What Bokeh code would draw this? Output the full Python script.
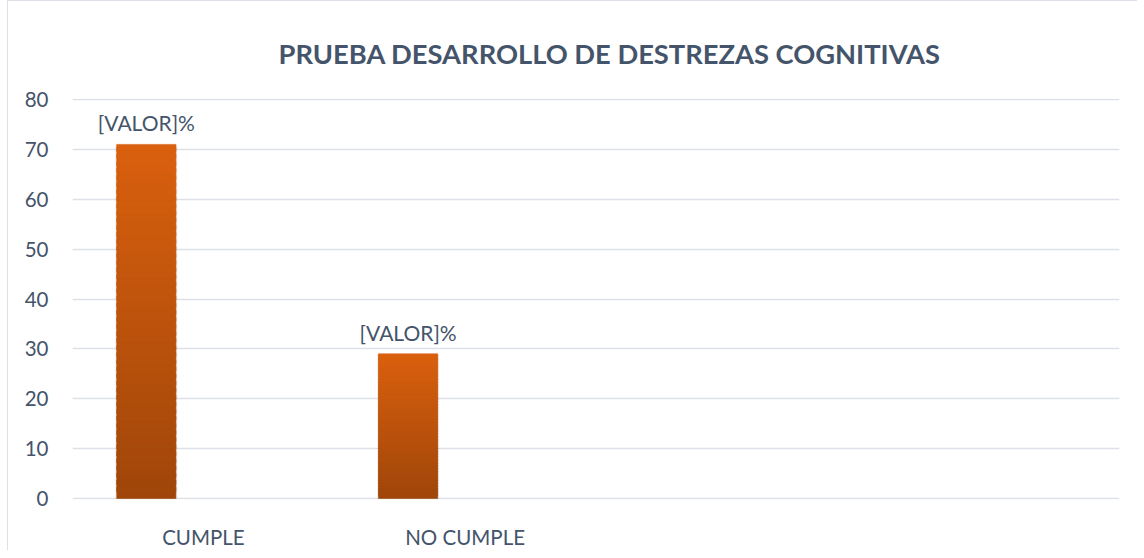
import numpy as np
from bokeh.plotting import figure
from bokeh.models import ColumnDataSource, FactorRange, Range1d, FixedTicker
from bokeh.transform import dodge
from bokeh.core.properties import value
from bokeh.embed import file_html
from bokeh.resources import INLINE

# ---- data ----
title_text = "PRUEBA DESARROLLO DE DESTREZAS COGNITIVAS"
categories = ["CUMPLE", "NO CUMPLE", " ", "  "]
bar_categories = ["CUMPLE", "NO CUMPLE"]
bar_values = [71, 29]
bar_labels = ["[VALOR]%", "[VALOR]%"]
y_ticks = [0, 10, 20, 30, 40, 50, 60, 70, 80]

FONT = "Lato"
TEXT_COLOR = "#44546A"
GRID_COLOR = "#DDE1E7"
TOP_RGB = np.array([217, 96, 14])
BOT_RGB = np.array([160, 70, 10])
BAR_W = 0.226
BAR_OFF = -0.218

p = figure(width=1130, height=550, output_backend="svg", toolbar_location=None,
           x_range=FactorRange(*categories, range_padding=0),
           y_range=Range1d(-0.2, 80.2),
           min_border_left=64, min_border_right=19, min_border_top=97, min_border_bottom=51)
p.margin = (0, 0, 0, 7)
p.styles = {"border-top": "1.5px solid #DDE1E7", "border-left": "1.5px solid #DDE1E7"}
p.outline_line_color = None
p.background_fill_color = "white"
p.border_fill_color = "white"

p.title.text = title_text
p.title.align = "left"
p.title.offset = 206
p.title.text_font = FONT
p.title.text_font_style = "bold"
p.title.text_font_size = "27.3px"
p.title.text_color = TEXT_COLOR
p.title.standoff = 58

# grid
p.xgrid.grid_line_color = None
p.ygrid.grid_line_color = GRID_COLOR
p.ygrid.grid_line_width = 1.5
p.yaxis.ticker = FixedTicker(ticks=y_ticks)

for ax in (p.xaxis, p.yaxis):
    ax.axis_line_color = None
    ax.major_tick_line_color = None
    ax.minor_tick_line_color = None
    ax.major_label_text_font = FONT
    ax.major_label_text_color = TEXT_COLOR
    ax.major_label_text_font_size = "20.5px"
p.yaxis.major_label_standoff = 18
p.xaxis.major_label_standoff = 19

# shadow
shadow = ColumnDataSource(dict(cat=bar_categories, top=bar_values))
p.vbar(x=dodge("cat", BAR_OFF, range=p.x_range), top="top", bottom=-0.6, source=shadow,
       width=BAR_W * 1.05, fill_color="#a0a0a0", fill_alpha=0.15, line_color=None)

# gradient bars built from slices of each value
N = 50
xs, bots, tops, cols = [], [], [], []
for c, v in zip(bar_categories, bar_values):
    for i in range(N):
        t = i / (N - 1)  # 0 at bottom, 1 at top
        rgb = BOT_RGB + (TOP_RGB - BOT_RGB) * t
        xs.append(c)
        bots.append(v * i / N)
        tops.append(min(v, v * (i + 1.6) / N))
        cols.append("#%02x%02x%02x" % tuple(int(round(k)) for k in rgb))
src = ColumnDataSource(dict(cat=xs, bottom=bots, top=tops, color=cols))
p.vbar(x=dodge("cat", BAR_OFF, range=p.x_range), top="top", bottom="bottom", source=src,
       width=BAR_W, fill_color="color", line_color="color", line_width=0.6)

lab = ColumnDataSource(dict(cat=bar_categories, y=bar_values, text=bar_labels))
p.text(x=dodge("cat", BAR_OFF, range=p.x_range), y="y", text="text", source=lab,
       text_align="center", text_baseline="bottom", y_offset=-9,
       text_font=value(FONT), text_font_size="21px", text_color=TEXT_COLOR)

open("out.html", "w").write(file_html(p, INLINE))
